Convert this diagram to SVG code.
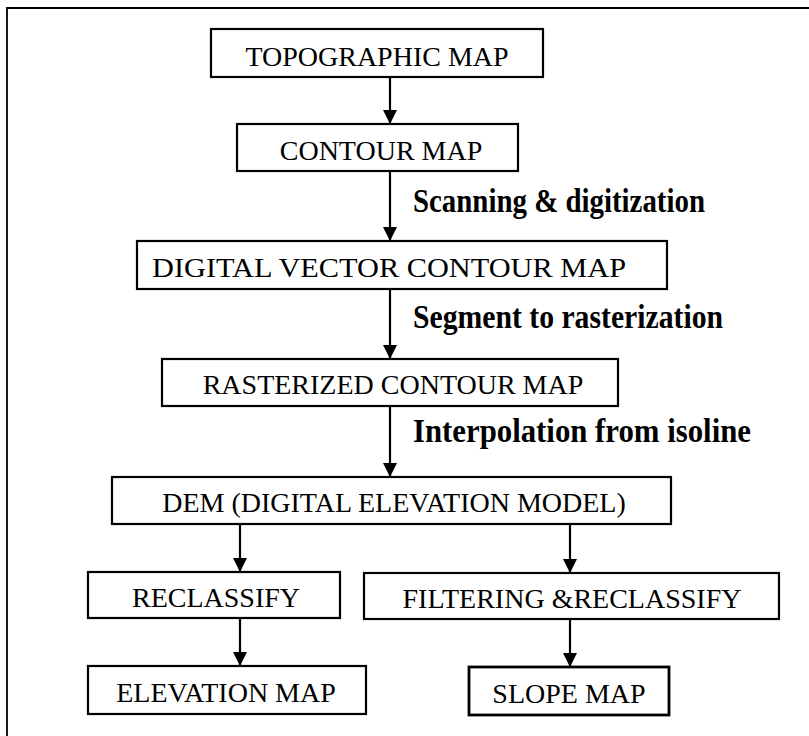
<svg xmlns="http://www.w3.org/2000/svg" width="809" height="736" viewBox="0 0 809 736">
<defs>
<marker id="ah" markerWidth="14" markerHeight="14" refX="14" refY="7" orient="auto" markerUnits="userSpaceOnUse">
<path d="M0,0 L14,7 L0,14 Z" fill="#000"/>
</marker>
<style>
.box{fill:#fff;stroke:#000;stroke-width:2.2}
.t{font-family:"Liberation Serif","Times New Roman",serif;font-size:28px;fill:#000;text-anchor:middle}
.lbl{font-family:"Liberation Serif","Times New Roman",serif;font-weight:bold;font-size:34px;fill:#000}
.c{stroke:#000;stroke-width:2.2;fill:none;marker-end:url(#ah)}
</style>
</defs>
<rect width="809" height="736" fill="#fff"/>
<g id="frame"><path d="M7,736 L7,8 L809,8" fill="none" stroke="#000" stroke-width="1.8"/></g>
<g id="connectors">
<line class="c" x1="390" y1="77" x2="390" y2="124"/>
<line class="c" x1="390" y1="171" x2="390" y2="241"/>
<line class="c" x1="390" y1="289" x2="390" y2="359"/>
<line class="c" x1="390" y1="406" x2="390" y2="477"/>
<line class="c" x1="240" y1="524" x2="240" y2="572"/>
<line class="c" x1="570" y1="524" x2="570" y2="573"/>
<line class="c" x1="240" y1="618" x2="240" y2="666"/>
<line class="c" x1="570" y1="619" x2="570" y2="667"/>
</g>
<g id="lbl-scan"><text class="lbl" x="413" y="212" textLength="292" lengthAdjust="spacingAndGlyphs">Scanning &amp; digitization</text></g>
<g id="lbl-seg"><text class="lbl" x="413" y="328" textLength="310" lengthAdjust="spacingAndGlyphs">Segment to rasterization</text></g>
<g id="lbl-interp"><text class="lbl" x="413" y="442" textLength="338" lengthAdjust="spacingAndGlyphs">Interpolation from isoline</text></g>
<g id="n-topo"><rect class="box" x="211" y="29" width="332" height="48"/><text class="t" x="377" y="66">TOPOGRAPHIC MAP</text></g>
<g id="n-contour"><rect class="box" x="237" y="124" width="281" height="47"/><text class="t" x="381" y="160">CONTOUR MAP</text></g>
<g id="n-vector"><rect class="box" x="137" y="241" width="530" height="48"/><text class="t" x="389" y="277" textLength="474" lengthAdjust="spacingAndGlyphs">DIGITAL VECTOR CONTOUR MAP</text></g>
<g id="n-raster"><rect class="box" x="162" y="359" width="456" height="47"/><text class="t" x="393" y="394">RASTERIZED CONTOUR MAP</text></g>
<g id="n-dem"><rect class="box" x="112" y="477" width="559" height="47"/><text class="t" x="394" y="512">DEM (DIGITAL ELEVATION MODEL)</text></g>
<g id="n-reclass"><rect class="box" x="88" y="572" width="252" height="46"/><text class="t" x="216" y="607">RECLASSIFY</text></g>
<g id="n-filter"><rect class="box" x="364" y="573" width="415" height="46"/><text class="t" x="572" y="608">FILTERING &amp;RECLASSIFY</text></g>
<g id="n-elev"><rect class="box" x="88" y="666" width="278" height="48"/><text class="t" x="226" y="702">ELEVATION MAP</text></g>
<g id="n-slope"><rect class="box" x="469" y="667" width="200" height="48" style="stroke-width:2.8"/><text class="t" x="569" y="703">SLOPE MAP</text></g>
</svg>
